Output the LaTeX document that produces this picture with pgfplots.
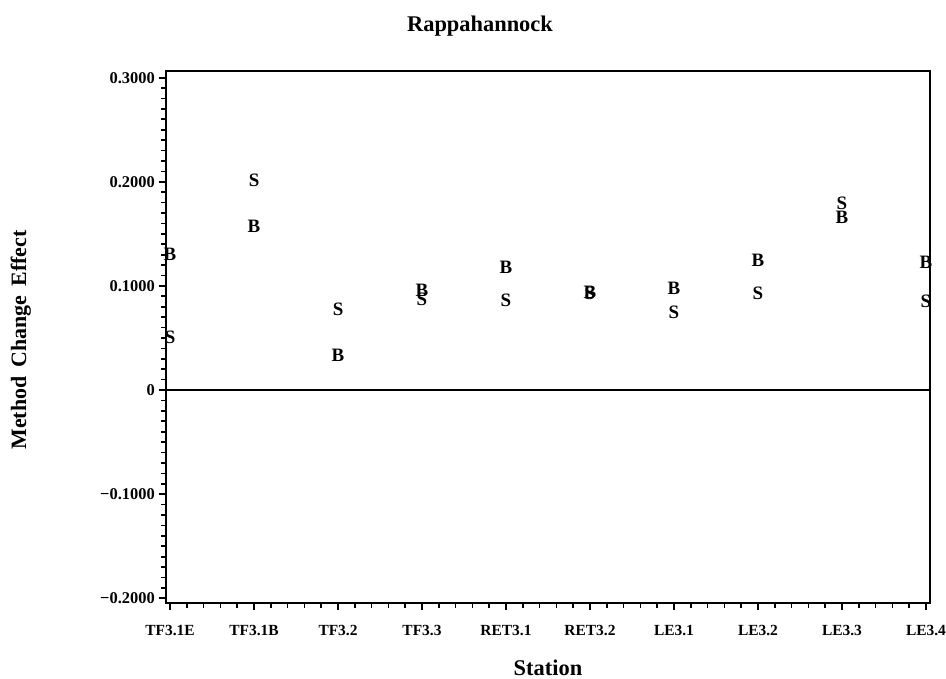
\documentclass[border=0pt]{standalone}
\usepackage{fontspec}
\setmainfont{Liberation Serif}
\usepackage{pgfplots}
\pgfplotsset{compat=1.18}

% letter markers, as in the SAS plot
\pgfplotsset{
  letter/.style={only marks, mark=text, text mark={#1},
    text mark as node=true,
    text mark style={font=\bfseries\fontsize{19}{19}\selectfont, inner sep=0pt}},
}

\begin{document}
\begin{tikzpicture}
\useasboundingbox (-166bp,-76bp) rectangle (780bp,603bp);
\begin{axis}[
  at={(0,0)}, anchor=south west,
  scale only axis,
  width=764bp, height=532.3bp,
  xmin=-0.048, xmax=9.048,
  ymin=-0.2045, ymax=0.3067,
  xtick={0,...,9},
  xticklabels={TF3.1E,TF3.1B,TF3.2,TF3.3,RET3.1,RET3.2,LE3.1,LE3.2,LE3.3,LE3.4},
  minor x tick num=4,
  ytick={-0.2,-0.1,0,0.1,0.2,0.3},
  yticklabels={−0.2000,−0.1000,0,0.1000,0.2000,0.3000},
  minor y tick num=9,
  tick align=outside,
  tick pos=left,
  major tick length=7bp,
  minor tick length=4.5bp,
  axis line style={line width=1.7bp},
  every tick/.style={black, line width=1.7bp},
  xticklabel style={font=\bfseries\fontsize{15.5}{15.5}\selectfont, anchor=north, inner sep=0pt, yshift=-15bp},
  yticklabel style={font=\bfseries\fontsize{16.5}{16.5}\selectfont, anchor=east, inner sep=0pt, xshift=-4bp},
  title={Rappahannock},
  title style={font=\bfseries\fontsize{22.5}{22.5}\selectfont, at={(axis description cs:0.411,1.062)}, anchor=base},
  xlabel={Station},
  xlabel style={font=\bfseries\fontsize{22.5}{22.5}\selectfont, at={(axis description cs:0.5,-0.1353)}, anchor=base},
  ylabel={Method\ \,Change\ \,Effect},
  ylabel style={font=\bfseries\fontsize{22}{22}\selectfont, at={(axis description cs:-0.19,0.494)}, anchor=center},
  clip=false,
]
% zero reference line
\addplot[black, line width=1.7bp] coordinates {(-0.048,0) (9.048,0)};
% B
\addplot[letter=B] coordinates {
  (0,0.130) (1,0.157) (2,0.033) (3,0.096) (4,0.118)
  (5,0.094) (6,0.098) (7,0.125) (8,0.166) (9,0.123)
};
% S
\addplot[letter=S] coordinates {
  (0,0.051) (1,0.201) (2,0.078) (3,0.087) (4,0.086)
  (5,0.093) (6,0.075) (7,0.093) (8,0.179) (9,0.085)
};
\end{axis}
\end{tikzpicture}
\end{document}
